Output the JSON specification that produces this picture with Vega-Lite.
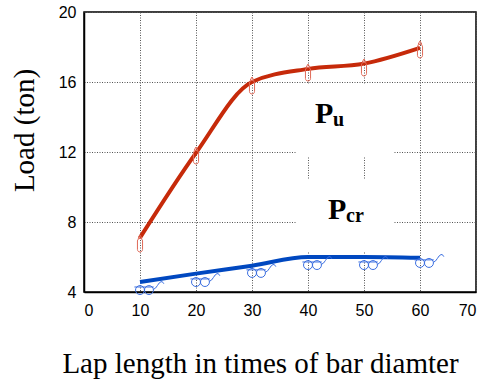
{
  "$schema": "https://vega.github.io/schema/vega-lite/v6.json",
  "width": 392,
  "height": 280,
  "autosize": {"type": "none"},
  "padding": {"left": 84, "top": 12, "right": 19, "bottom": 89},
  "background": "white",
  "config": {
    "view": {"stroke": "black", "strokeWidth": 1.5},
    "axis": {
      "labelFont": "Liberation Sans",
      "labelFontSize": 16,
      "labelColor": "black",
      "titleFont": "Liberation Serif",
      "titleFontSize": 29,
      "titleFontWeight": "normal",
      "titleColor": "black",
      "domainColor": "black",
      "domainWidth": 1.5,
      "ticks": false,
      "gridColor": "#555555",
      "gridDash": [1, 1.5],
      "gridWidth": 1
    }
  },
  "datasets": {
    "boxes": [
      {"x": 37.9, "x2": 55.2, "y": 15.9, "y2": 11.72},
      {"x": 37.9, "x2": 55.2, "y": 10.4, "y2": 6.3}
    ],
    "pu": [
      {"x": 10, "y": 7.1},
      {"x": 20, "y": 11.95},
      {"x": 30, "y": 16.0},
      {"x": 40, "y": 16.75},
      {"x": 50, "y": 17.05},
      {"x": 60, "y": 17.95}
    ],
    "pcr": [
      {"x": 10, "y": 4.57},
      {"x": 20, "y": 5.05},
      {"x": 30, "y": 5.5},
      {"x": 40, "y": 6.0},
      {"x": 50, "y": 6.0},
      {"x": 60, "y": 5.95}
    ],
    "puTests": [
      {"x": 10, "y": 6.77},
      {"x": 20, "y": 11.8},
      {"x": 30, "y": 15.8},
      {"x": 40, "y": 16.54},
      {"x": 50, "y": 16.83},
      {"x": 60, "y": 17.86}
    ],
    "pcrTests": [
      {"x": 10, "y": 4.11},
      {"x": 20, "y": 4.57},
      {"x": 30, "y": 5.09},
      {"x": 40, "y": 5.54},
      {"x": 50, "y": 5.54},
      {"x": 60, "y": 5.66}
    ],
    "bigText": [
      {"x": 41.25, "y": 13.66, "t": "P"},
      {"x": 43.57, "y": 8.17, "t": "P"}
    ],
    "subText": [
      {"x": 44.46, "y": 13.49, "t": "u"},
      {"x": 46.8, "y": 8.0, "t": "cr"}
    ]
  },
  "encoding": {
    "x": {
      "field": "x",
      "type": "quantitative",
      "scale": {"domain": [0, 70], "nice": false, "zero": false},
      "axis": {
        "values": [0, 10, 20, 30, 40, 50, 60, 70],
        "title": "Lap length in times of bar diamter",
        "labelPadding": 10,
        "titleX": 176,
        "titleY": 80,
        "titleAlign": "center",
        "titleBaseline": "alphabetic"
      }
    },
    "y": {
      "field": "y",
      "type": "quantitative",
      "scale": {"domain": [4, 20], "nice": false, "zero": false},
      "axis": {
        "values": [4, 8, 12, 16, 20],
        "title": "Load (ton)",
        "labelPadding": 8,
        "titleX": -60,
        "titleY": 118,
        "titleAlign": "center",
        "titleBaseline": "middle"
      }
    }
  },
  "layer": [
    {
      "data": {"name": "boxes"},
      "mark": {"type": "rect", "fill": "white", "stroke": null},
      "encoding": {"x2": {"field": "x2"}, "y2": {"field": "y2"}}
    },
    {
      "data": {"name": "pu"},
      "mark": {"type": "line", "interpolate": "monotone", "color": "#c62a0a", "strokeWidth": 4}
    },
    {
      "data": {"name": "pcr"},
      "mark": {"type": "line", "interpolate": "monotone", "color": "#0048c0", "strokeWidth": 4}
    },
    {
      "data": {"name": "puTests"},
      "mark": {
        "type": "point",
        "filled": false,
        "stroke": "#e06a58",
        "strokeWidth": 1,
        "size": 289,
        "opacity": 1,
        "shape": "M0,-1 L0.22,-0.62 L-0.22,-0.62 Z M-0.3,-0.3 A0.3,0.3 0 0 1 0.3,-0.3 L0.3,0.7 A0.3,0.3 0 0 1 -0.3,0.7 Z"
      }
    },
    {
      "data": {"name": "pcrTests"},
      "mark": {
        "type": "point",
        "filled": false,
        "stroke": "#3a6ee0",
        "strokeWidth": 1,
        "size": 784,
        "opacity": 1,
        "shape": "M-0.32,0 A0.32,0.32 0 1 0 0.32,0 A0.32,0.32 0 1 0 -0.32,0 M0.32,0 A0.32,0.32 0 1 0 0.96,0 A0.32,0.32 0 1 0 0.32,0 M-0.4,-0.22 L0.98,-0.22 M0.96,-0.05 C1.2,-0.1 1.3,-0.55 1.5,-0.6 C1.62,-0.62 1.68,-0.5 1.7,-0.45"
      }
    },
    {
      "data": {"name": "bigText"},
      "mark": {"type": "text", "font": "Liberation Serif", "fontWeight": "bold", "fontSize": 30, "align": "left", "baseline": "alphabetic", "color": "black"},
      "encoding": {"text": {"field": "t"}}
    },
    {
      "data": {"name": "subText"},
      "mark": {"type": "text", "font": "Liberation Serif", "fontWeight": "bold", "fontSize": 20, "align": "left", "baseline": "alphabetic", "color": "black"},
      "encoding": {"text": {"field": "t"}}
    }
  ]
}
